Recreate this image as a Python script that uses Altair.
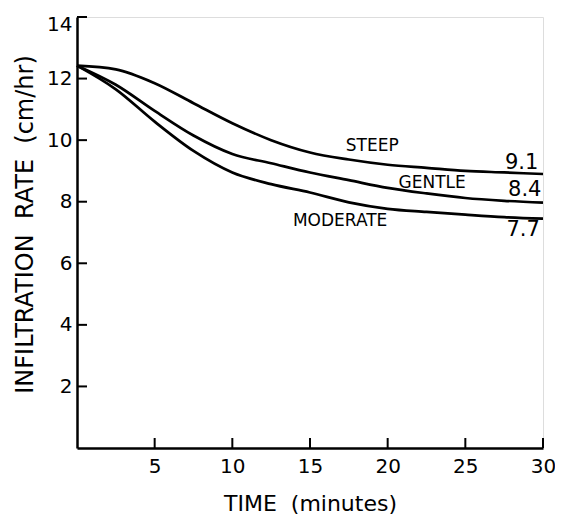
import altair as alt
import pandas as pd

# --- data ---
time_min = [0, 2.5, 5, 7.5, 10, 12.5, 15, 17.5, 20, 22.5, 25, 27.5, 30]
steep    = [12.42, 12.3, 11.85, 11.2, 10.55, 10.0, 9.6, 9.37, 9.2, 9.1, 9.0, 8.95, 8.9]
gentle   = [12.42, 11.8, 10.95, 10.15, 9.55, 9.25, 8.95, 8.7, 8.45, 8.27, 8.12, 8.03, 7.97]
moderate = [12.42, 11.65, 10.6, 9.65, 8.95, 8.57, 8.3, 7.98, 7.77, 7.67, 7.58, 7.5, 7.45]

series_names = ["STEEP", "GENTLE", "MODERATE"]
name_x = [17.3, 20.7, 13.9]
name_y = [9.8, 8.6, 7.37]

end_values = ["9.1", "8.4", "7.7"]
end_x = [29.7, 29.9, 29.8]
end_y = [9.25, 8.37, 7.07]

x_ticks = [5, 10, 15, 20, 25, 30]
y_ticks = [2, 4, 6, 8, 10, 12, 14]

FONT = "DejaVu Sans"
W, H = 466, 431
NB = "\u00a0"

rows = []
for name, vals in zip(series_names, [steep, gentle, moderate]):
    for t, v in zip(time_min, vals):
        rows.append({"t": t, "v": v, "s": name})
df = pd.DataFrame(rows)

xs = alt.Scale(domain=[0, 30], nice=False, zero=False)
ys = alt.Scale(domain=[0, 14], nice=False, zero=False)

lines = alt.Chart(df).mark_line(
    color="black", strokeWidth=2.7, interpolate="monotone"
).encode(
    x=alt.X("t:Q", scale=xs, axis=alt.Axis(
        values=x_ticks, ticks=False, grid=False, domainColor="black",
        domainWidth=2.5, labelFont=FONT, labelFontSize=20, labelColor="black",
        labelPadding=8, labelFlush=False,
        title="TIME " + NB + "(minutes)", titleFont=FONT,
        titleFontSize=22, titleFontWeight="normal", titleColor="black",
        titleY=62, titleBaseline="alphabetic")),
    y=alt.Y("v:Q", scale=ys, axis=alt.Axis(
        values=y_ticks, ticks=False, grid=False, domainColor="black",
        domainWidth=2.5, labelFont=FONT, labelFontSize=20, labelColor="black",
        labelPadding=5, labelFlush=False,
        labelBaseline={"condition": {"test": "datum.value === 14", "value": "top"}, "value": "middle"},
        labelOffset={"condition": {"test": "datum.value === 14", "value": -3}, "value": 0},
        title="INFILTRATION " + NB + "RATE " + NB + "(cm/hr)", titleFont=FONT,
        titleFontSize=24, titleFontWeight="normal", titleColor="black",
        titleX=-52, titleY=207, titleAlign="center", titleBaseline="middle")),
    detail="s:N",
)

xt = alt.Chart(pd.DataFrame({"t": x_ticks})).mark_rule(
    color="black", strokeWidth=2
).encode(x=alt.X("t:Q", scale=xs), y=alt.value(H), y2=alt.value(H - 10))

yt = alt.Chart(pd.DataFrame({"v": y_ticks})).mark_rule(
    color="black", strokeWidth=2
).encode(y=alt.Y("v:Q", scale=ys), x=alt.value(0), x2=alt.value(10))

names = alt.Chart(pd.DataFrame({"t": name_x, "v": name_y, "s": series_names})).mark_text(
    font=FONT, fontSize=17, align="left", baseline="middle", color="black"
).encode(x=alt.X("t:Q", scale=xs), y=alt.Y("v:Q", scale=ys), text="s:N")

ends = alt.Chart(pd.DataFrame({"t": end_x, "v": end_y, "s": end_values})).mark_text(
    font=FONT, fontSize=21, align="right", baseline="middle", color="black"
).encode(x=alt.X("t:Q", scale=xs), y=alt.Y("v:Q", scale=ys), text="s:N")

chart = alt.layer(lines, xt, yt, names, ends).properties(
    width=W, height=H,
    autosize=alt.AutoSizeParams(type="none"),
    padding={"left": 69, "top": 9, "right": 12, "bottom": 67},
).configure_view(stroke=None).configure(background="white")

chart.save("out.html", embed_options={"renderer": "svg", "actions": False})
